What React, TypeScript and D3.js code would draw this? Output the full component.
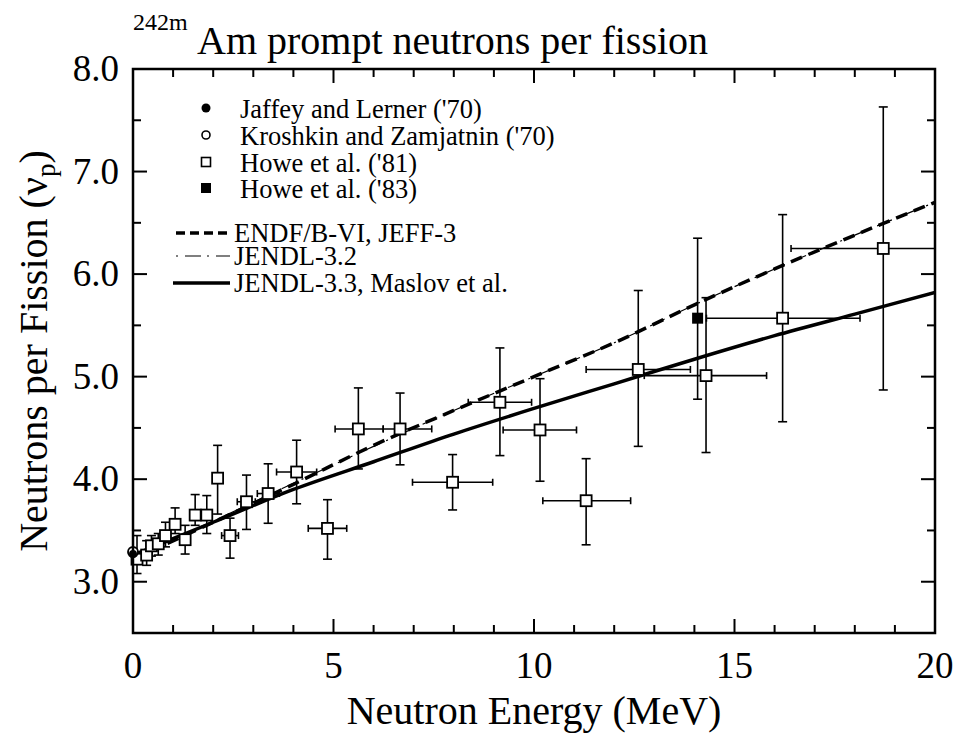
import React, { useEffect, useRef } from 'react';
import * as d3 from 'd3';

// Howe et al. ('81): energy, nu_p, vertical error limits, horizontal error limits
const howe81E = [0.10, 0.34, 0.46, 0.63, 0.81, 1.05, 1.30, 1.55, 1.84, 2.11, 2.42, 2.83, 3.37, 4.08, 4.85, 5.62, 6.66, 7.97, 9.15, 10.15, 11.30, 12.60, 14.29, 16.20, 18.71];
const howe81Nu = [3.22, 3.26, 3.35, 3.37, 3.45, 3.56, 3.41, 3.65, 3.65, 4.01, 3.45, 3.78, 3.86, 4.07, 3.52, 4.49, 4.49, 3.97, 4.75, 4.48, 3.79, 5.07, 5.01, 5.57, 6.25];
const howe81Lo = [3.08, 3.16, 3.25, 3.26, 3.34, 3.47, 3.27, 3.55, 3.47, 3.66, 3.23, 3.51, 3.57, 3.76, 3.22, 4.10, 4.14, 3.70, 4.23, 3.98, 3.36, 4.32, 4.26, 4.56, 4.87];
const howe81Hi = [3.45, 3.40, 3.45, 3.47, 3.58, 3.72, 3.55, 3.85, 3.84, 4.33, 3.62, 4.04, 4.15, 4.38, 3.80, 4.89, 4.84, 4.24, 5.28, 4.98, 4.20, 5.84, 5.77, 6.58, 7.63];
const howe81ELo = [0.10, 0.34, 0.46, 0.63, 0.81, 1.05, 1.30, 1.55, 1.84, 2.11, 2.21, 2.60, 3.10, 3.58, 4.37, 5.04, 6.24, 6.97, 8.36, 9.23, 10.22, 11.30, 12.75, 14.30, 16.41];
const howe81EHi = [0.10, 0.34, 0.46, 0.63, 0.81, 1.05, 1.30, 1.55, 1.84, 2.11, 2.63, 3.05, 3.65, 4.58, 5.33, 6.24, 7.45, 8.97, 9.94, 11.06, 12.41, 13.90, 15.80, 18.13, 21.00];

// Howe et al. ('83)
const howe83E = [14.08];
const howe83Nu = [5.57];
const howe83Lo = [4.78];
const howe83Hi = [6.35];

// thermal points
const jaffeyE = [0.0];
const jaffeyNu = [3.27];
const kroshkinE = [0.0];
const kroshkinNu = [3.29];

// evaluations
const evalE = [0, 2, 4, 6, 8, 10, 12, 14, 16, 18, 20];
const endfNu = [3.22, 3.58, 3.95, 4.33, 4.67, 5.00, 5.33, 5.70, 6.05, 6.38, 6.70];
const jendl32Nu = [3.23, 3.59, 3.96, 4.32, 4.67, 5.00, 5.33, 5.70, 6.05, 6.38, 6.70];
const jendl33Nu = [3.26, 3.58, 3.90, 4.17, 4.44, 4.69, 4.93, 5.17, 5.40, 5.61, 5.82];

const xTicks = [0, 5, 10, 15, 20];
const yTicks = [3.0, 4.0, 5.0, 6.0, 7.0, 8.0];

const W = 958;
const H = 737;
const FONT = '"Liberation Serif", "Times New Roman", serif';

const App: React.FC = () => {
  const svgRef = useRef<SVGSVGElement>(null);

  useEffect(() => {
    if (!svgRef.current) return;
    const svg = d3.select(svgRef.current);
    svg.selectAll('*').remove();

    const left = 133, right = 935, top = 69, bottom = 633;
    const x = d3.scaleLinear().domain([0, 20]).range([left, right]);
    const y = d3.scaleLinear().domain([2.5, 8.0]).range([bottom, top]);

    svg.append('rect').attr('width', W).attr('height', H).attr('fill', '#fff');

    const defs = svg.append('defs');
    defs.append('clipPath').attr('id', 'plotclip')
      .append('rect').attr('x', left).attr('y', top).attr('width', right - left).attr('height', bottom - top);

    // ticks (inward), every 1 MeV on x, every 0.5 on y
    const tg = svg.append('g').attr('stroke', '#000').attr('stroke-width', 2);
    d3.range(1, 20).forEach(v => {
      const len = v % 5 === 0 ? 14 : 8;
      tg.append('line').attr('x1', x(v)).attr('x2', x(v)).attr('y1', bottom).attr('y2', bottom - len);
      tg.append('line').attr('x1', x(v)).attr('x2', x(v)).attr('y1', top).attr('y2', top + len);
    });
    d3.range(3.0, 8.0, 0.5).forEach(v => {
      const len = Math.abs(v - Math.round(v)) < 0.01 ? 14 : 8;
      tg.append('line').attr('x1', left).attr('x2', left + len).attr('y1', y(v)).attr('y2', y(v));
      tg.append('line').attr('x1', right).attr('x2', right - len).attr('y1', y(v)).attr('y2', y(v));
    });

    // evaluation curves
    const plot = svg.append('g').attr('clip-path', 'url(#plotclip)');
    const line = (vals: number[]) => d3.line<number>()
      .x((_, i) => x(evalE[i]))
      .y(d => y(d))
      .curve(d3.curveMonotoneX)(vals);

    plot.append('path').attr('d', line(jendl32Nu)).attr('fill', 'none')
      .attr('stroke', '#000').attr('stroke-width', 1.2).attr('stroke-dasharray', '2,7,16,6');
    plot.append('path').attr('d', line(endfNu)).attr('fill', 'none')
      .attr('stroke', '#000').attr('stroke-width', 3.5).attr('stroke-dasharray', '12,7');
    plot.append('path').attr('d', line(jendl33Nu)).attr('fill', 'none')
      .attr('stroke', '#000').attr('stroke-width', 3.5);

    // error bars
    const eb = plot.append('g').attr('stroke', '#000').attr('stroke-width', 1.6);
    const cap = 4.5;
    howe81E.forEach((e, i) => {
      const cx = x(e);
      eb.append('line').attr('x1', cx).attr('x2', cx).attr('y1', y(howe81Lo[i])).attr('y2', y(howe81Hi[i]));
      eb.append('line').attr('x1', cx - cap).attr('x2', cx + cap).attr('y1', y(howe81Lo[i])).attr('y2', y(howe81Lo[i]));
      eb.append('line').attr('x1', cx - cap).attr('x2', cx + cap).attr('y1', y(howe81Hi[i])).attr('y2', y(howe81Hi[i]));
      if (howe81EHi[i] > howe81ELo[i]) {
        const cy = y(howe81Nu[i]);
        eb.append('line').attr('x1', x(howe81ELo[i])).attr('x2', x(howe81EHi[i])).attr('y1', cy).attr('y2', cy);
        eb.append('line').attr('x1', x(howe81ELo[i])).attr('x2', x(howe81ELo[i])).attr('y1', cy - 3.5).attr('y2', cy + 3.5);
        eb.append('line').attr('x1', x(howe81EHi[i])).attr('x2', x(howe81EHi[i])).attr('y1', cy - 3.5).attr('y2', cy + 3.5);
      }
    });
    howe83E.forEach((e, i) => {
      const cx = x(e);
      eb.append('line').attr('x1', cx).attr('x2', cx).attr('y1', y(howe83Lo[i])).attr('y2', y(howe83Hi[i]));
      eb.append('line').attr('x1', cx - cap).attr('x2', cx + cap).attr('y1', y(howe83Lo[i])).attr('y2', y(howe83Lo[i]));
      eb.append('line').attr('x1', cx - cap).attr('x2', cx + cap).attr('y1', y(howe83Hi[i])).attr('y2', y(howe83Hi[i]));
    });

    // markers
    const sq = 11;
    const mk = svg.append('g');
    howe81E.forEach((e, i) => {
      mk.append('rect').attr('x', x(e) - sq / 2).attr('y', y(howe81Nu[i]) - sq / 2)
        .attr('width', sq).attr('height', sq).attr('fill', '#fff').attr('stroke', '#000').attr('stroke-width', 1.8);
    });
    howe83E.forEach((e, i) => {
      mk.append('rect').attr('x', x(e) - sq / 2).attr('y', y(howe83Nu[i]) - sq / 2)
        .attr('width', sq).attr('height', sq).attr('fill', '#000');
    });
    kroshkinE.forEach((e, i) => {
      mk.append('circle').attr('cx', x(e)).attr('cy', y(kroshkinNu[i])).attr('r', 5)
        .attr('fill', '#fff').attr('stroke', '#000').attr('stroke-width', 1.8);
    });
    jaffeyE.forEach((e, i) => {
      mk.append('circle').attr('cx', x(e)).attr('cy', y(jaffeyNu[i])).attr('r', 4).attr('fill', '#000');
    });

    // frame
    svg.append('rect').attr('x', left).attr('y', top).attr('width', right - left).attr('height', bottom - top)
      .attr('fill', 'none').attr('stroke', '#000').attr('stroke-width', 2.5);

    // tick labels
    xTicks.forEach(v => {
      svg.append('text').attr('x', x(v)).attr('y', 678).attr('text-anchor', 'middle')
        .attr('font-family', FONT).attr('font-size', 37).text(String(v));
    });
    yTicks.forEach(v => {
      svg.append('text').attr('x', 119).attr('y', y(v) + 12).attr('text-anchor', 'end')
        .attr('font-family', FONT).attr('font-size', 37).text(v.toFixed(1));
    });

    // axis titles
    svg.append('text').attr('x', (left + right) / 2).attr('y', 724).attr('text-anchor', 'middle')
      .attr('font-family', FONT).attr('font-size', 40).text('Neutron Energy (MeV)');
    const yt = svg.append('text').attr('transform', `translate(47,${(top + bottom) / 2}) rotate(-90)`)
      .attr('text-anchor', 'middle').attr('font-family', FONT).attr('font-size', 40);
    yt.append('tspan').text('Neutrons per Fission (ν');
    yt.append('tspan').attr('font-size', 27).attr('dy', 8).text('p');
    yt.append('tspan').attr('dy', -8).text(')');

    // title
    svg.append('text').attr('x', 133).attr('y', 30).attr('font-family', FONT).attr('font-size', 24).text('242m');
    svg.append('text').attr('x', 197).attr('y', 54).attr('font-family', FONT).attr('font-size', 40)
      .text('Am prompt neutrons per fission');

    // legend
    const lg = svg.append('g').attr('font-family', FONT).attr('font-size', 26.5);
    const lx = 206, tx = 240;
    const rows = [108, 135, 162, 188];
    lg.append('circle').attr('cx', lx).attr('cy', rows[0]).attr('r', 4.5).attr('fill', '#000');
    lg.append('circle').attr('cx', lx).attr('cy', rows[1]).attr('r', 4).attr('fill', '#fff').attr('stroke', '#000').attr('stroke-width', 1.6);
    lg.append('rect').attr('x', lx - 4.5).attr('y', rows[2] - 4.5).attr('width', 9).attr('height', 9).attr('fill', '#fff').attr('stroke', '#000').attr('stroke-width', 1.6);
    lg.append('rect').attr('x', lx - 5).attr('y', rows[3] - 5).attr('width', 10).attr('height', 10).attr('fill', '#000');
    const labels = ["Jaffey and Lerner ('70)", "Kroshkin and Zamjatnin ('70)", "Howe et al. ('81)", "Howe et al. ('83)"];
    labels.forEach((t, i) => lg.append('text').attr('x', tx).attr('y', rows[i] + 10).text(t));

    const lrows = [233, 256, 283];
    const lstyles = [
      { x1: 176, w: 3.5, dash: '9,5' },
      { x1: 176, w: 1.2, dash: '2,7,16,6' },
      { x1: 173, w: 3.5, dash: null as string | null },
    ];
    const llabels = ['ENDF/B-VI, JEFF-3', 'JENDL-3.2', 'JENDL-3.3, Maslov et al.'];
    lrows.forEach((ry, i) => {
      const l = lg.append('line').attr('x1', lstyles[i].x1).attr('x2', 230).attr('y1', ry).attr('y2', ry)
        .attr('stroke', '#000').attr('stroke-width', lstyles[i].w);
      if (lstyles[i].dash) l.attr('stroke-dasharray', lstyles[i].dash);
      lg.append('text').attr('x', 234).attr('y', ry + 9).text(llabels[i]);
    });
  }, []);

  return (
    <svg ref={svgRef} width={W} height={H} style={{ position: 'absolute', left: 0, top: 0 }} />
  );
};

export default App;
